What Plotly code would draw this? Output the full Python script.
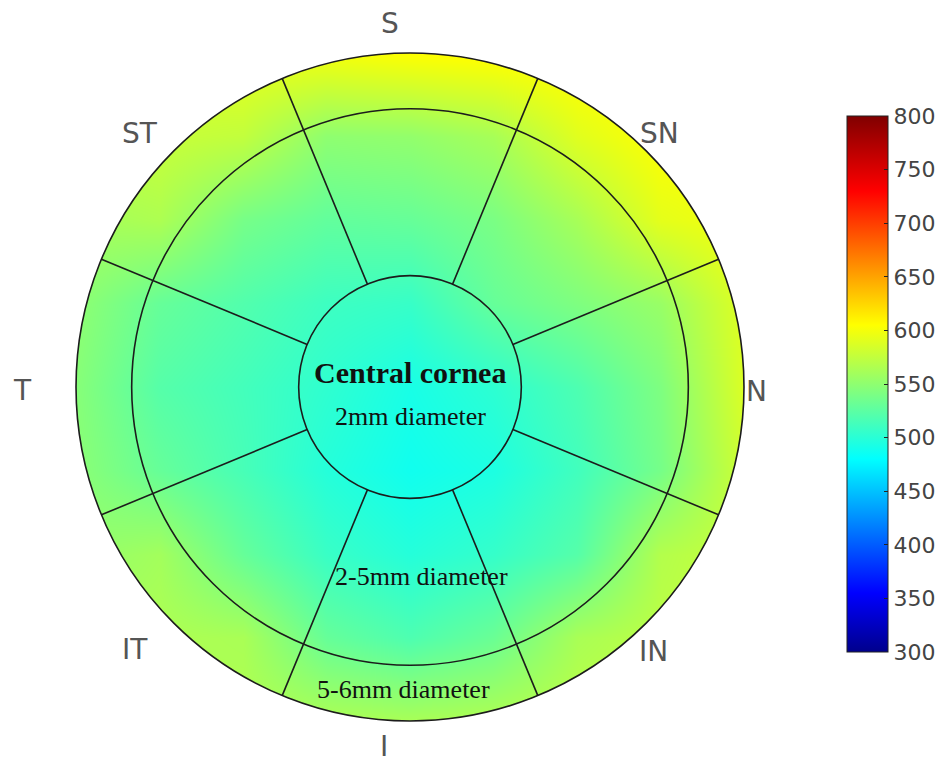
import numpy as np
import plotly.graph_objects as go

# ---------------- data ----------------
# thickness map sampled on a regular grid (mm), values in microns
grid_x = [-3.0, -2.25, -1.5, -0.75, 0.0, 0.75, 1.5, 2.25, 3.0]
grid_y = [-3.0, -2.25, -1.5, -0.75, 0.0, 0.75, 1.5, 2.25, 3.0]
row_ym300 = [562, 565, 566, 565, 563, 566, 572, 576, 580]
row_ym225 = [560, 565, 563, 530, 518, 532, 563, 572, 578]
row_ym150 = [552, 560, 530, 508, 498, 506, 522, 568, 578]
row_ym075 = [548, 530, 515, 498, 488, 494, 512, 538, 582]
row_y000 = [546, 522, 513, 503, 492, 502, 518, 542, 588]
row_yp075 = [550, 530, 520, 510, 507, 530, 542, 555, 590]
row_yp150 = [560, 565, 538, 528, 530, 540, 562, 592, 600]
row_yp225 = [575, 578, 575, 550, 552, 562, 590, 605, 605]
row_yp300 = [580, 588, 595, 600, 605, 608, 610, 610, 605]

sector_labels = ["N", "SN", "S", "ST", "T", "IT", "I", "IN"]
zone_diameters_mm = [2, 5, 6]
zone_texts = ["2mm diameter", "2-5mm diameter", "5-6mm diameter"]
center_title = "Central cornea"
cbar_min, cbar_max = 300, 800
cbar_ticks = [300, 350, 400, 450, 500, 550, 600, 650, 700, 750, 800]

z = [row_ym300, row_ym225, row_ym150, row_ym075, row_y000,
     row_yp075, row_yp150, row_yp225, row_yp300]

# ---------------- layout geometry ----------------
W, H = 944, 767
OFF = 8                    # page body margin
CX, CY = 410 - OFF, 387 - OFF   # circle centre in figure pixels
PX_PER_MM = 111.33

def px_to_paper(px, py):
    return (px - OFF) / W, 1 - (py - OFF) / H

jet = [[0.0, "rgb(0,0,140)"], [0.11, "rgb(0,0,255)"], [0.36, "rgb(0,255,255)"],
       [0.61, "rgb(255,255,0)"], [0.86, "rgb(255,0,0)"], [1.0, "rgb(128,0,0)"]]

fig = go.Figure()
fig.add_trace(go.Heatmap(
    x=grid_x, y=grid_y, z=z, zsmooth="best",
    colorscale=jet, zmin=cbar_min, zmax=cbar_max,
    hoverinfo="skip",
    colorbar=dict(
        x=(847 - OFF) / W, xanchor="left", xpad=0,
        y=1 - (384 - OFF) / H, yanchor="middle", ypad=0,
        len=536, lenmode="pixels", thickness=41, thicknessmode="pixels",
        outlinewidth=1, outlinecolor="#222",
        tickvals=cbar_ticks, ticks="inside", ticklen=4, tickcolor="#222",
        tickfont=dict(family="DejaVu Sans", size=22, color="#444"),
    ),
))

shapes = []
# white mask outside the outer circle
R_out = zone_diameters_mm[-1] / 2
ang = np.linspace(0, 2 * np.pi, 361)
circ = " ".join(f"L{R_out*np.cos(a):.4f},{R_out*np.sin(a):.4f}" for a in ang[1:])
mask_path = (f"M-3.8,-3.6 L4.3,-3.6 L4.3,3.6 L-3.8,3.6 Z "
             f"M{R_out:.4f},0 {circ} Z")
shapes.append(dict(type="path", path=mask_path, fillcolor="white",
                   line=dict(width=0), layer="above", fillrule="evenodd"))

line_style = dict(color="#1c1c1c", width=1.6)
for d in zone_diameters_mm:
    r = d / 2
    shapes.append(dict(type="circle", x0=-r, x1=r, y0=-r, y1=r,
                       line=line_style, layer="above"))
r_in, r_o = zone_diameters_mm[0] / 2, zone_diameters_mm[-1] / 2
for k in range(8):
    a = np.deg2rad(22.5 + 45 * k)
    shapes.append(dict(type="line",
                       x0=r_in * np.cos(a), y0=r_in * np.sin(a),
                       x1=r_o * np.cos(a), y1=r_o * np.sin(a),
                       line=line_style, layer="above"))

annotations = []
label_px = {"S": (390, 24), "SN": (659, 133), "N": (756, 391), "IN": (653, 651),
            "I": (384, 746), "IT": (135, 649), "T": (22, 390), "ST": (140, 133)}
for lab in sector_labels:
    px, py = label_px[lab]
    xp, yp = px_to_paper(px, py)
    annotations.append(dict(x=xp, y=yp, xref="paper", yref="paper", text=lab,
                            showarrow=False, xanchor="center", yanchor="middle",
                            font=dict(family="DejaVu Sans", size=28, color="#555")))

serif = "Liberation Serif"
txt_specs = [(center_title, 410, 372, 30, True),
             (zone_texts[0], 410, 416, 26, False),
             (zone_texts[1], 421, 576, 26, False),
             (zone_texts[2], 403, 689, 26, False)]
for t, px, py, fs, bold in txt_specs:
    xp, yp = px_to_paper(px, py)
    annotations.append(dict(x=xp, y=yp, xref="paper", yref="paper",
                            text=f"<b>{t}</b>" if bold else t,
                            showarrow=False, xanchor="center", yanchor="middle",
                            font=dict(family=serif, size=fs, color="#111")))

fig.update_layout(
    width=W, height=H, margin=dict(l=0, r=0, t=0, b=0),
    paper_bgcolor="white", plot_bgcolor="white",
    xaxis=dict(range=[-CX / PX_PER_MM, (W - CX) / PX_PER_MM], visible=False,
               fixedrange=True),
    yaxis=dict(range=[-(H - CY) / PX_PER_MM, CY / PX_PER_MM], visible=False,
               fixedrange=True),
    shapes=shapes, annotations=annotations, showlegend=False,
)

fig.write_html("out.html")
